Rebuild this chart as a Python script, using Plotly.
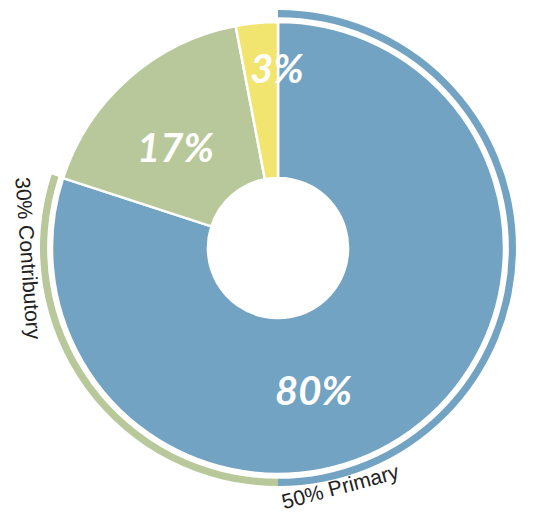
import plotly.graph_objects as go

# Inner donut data
slice_labels = ["Primary", "Contributory", "Other"]
slice_values = [80, 17, 3]
slice_text = ["80%", "17%", "3%"]
slice_colors = ["#73a3c2", "#b8c89a", "#f2e56f"]

# Outer ring data
ring_labels = ["50% Primary", "30% Contributory", ""]
ring_values = [50, 30, 20]
ring_colors = ["#73a3c2", "#b8c89a", "rgba(0,0,0,0)"]

W, H = 525, 505
OFF = 8  # page body margin
cx, cy = 278 - OFF, 248 - OFF
R_out, R_in = 238, 226


def dom(r):
    return dict(x=[(cx - r) / W, (cx + r) / W],
                y=[(H - cy - r) / H, (H - cy + r) / H])


def px(x, y):
    return (x - OFF) / W, 1 - (y - OFF) / H


fig = go.Figure()
fig.add_trace(go.Pie(
    labels=ring_labels, values=ring_values, sort=False, direction="clockwise",
    rotation=0, hole=0.97, domain=dom(R_out), textinfo="none",
    marker=dict(colors=ring_colors, line=dict(width=0)),
    hoverinfo="skip", showlegend=False,
))
fig.add_trace(go.Pie(
    labels=slice_labels, values=slice_values, sort=False, direction="clockwise",
    rotation=0, hole=0.31, domain=dom(R_in), textinfo="none",
    marker=dict(colors=slice_colors, line=dict(color="white", width=2.5)),
    showlegend=False,
))

pct_font = dict(family="Lato", size=40, color="white")
pct_pos = [(313, 390), (175, 147), (277, 68)]
for t, (x, y) in zip(slice_text, pct_pos):
    ax, ay = px(x, y)
    fig.add_annotation(x=ax, y=ay, xref="paper", yref="paper",
                       text="<b><i>" + t + "</i></b>", showarrow=False,
                       font=pct_font, xanchor="center", yanchor="middle")

lab_font = dict(family="Liberation Sans", size=21, color="#222")
ax, ay = px(340, 486)
fig.add_annotation(x=ax, y=ay, xref="paper", yref="paper",
                   text=ring_labels[0], showarrow=False, font=lab_font,
                   textangle=-15, xanchor="center", yanchor="middle")
ax, ay = px(29, 258)
fig.add_annotation(x=ax, y=ay, xref="paper", yref="paper",
                   text=ring_labels[1], showarrow=False, font=lab_font,
                   textangle=86, xanchor="center", yanchor="middle")

fig.update_layout(width=W, height=H, margin=dict(l=0, r=0, t=0, b=0),
                  paper_bgcolor="white", plot_bgcolor="white")
fig.write_html("out.html")
